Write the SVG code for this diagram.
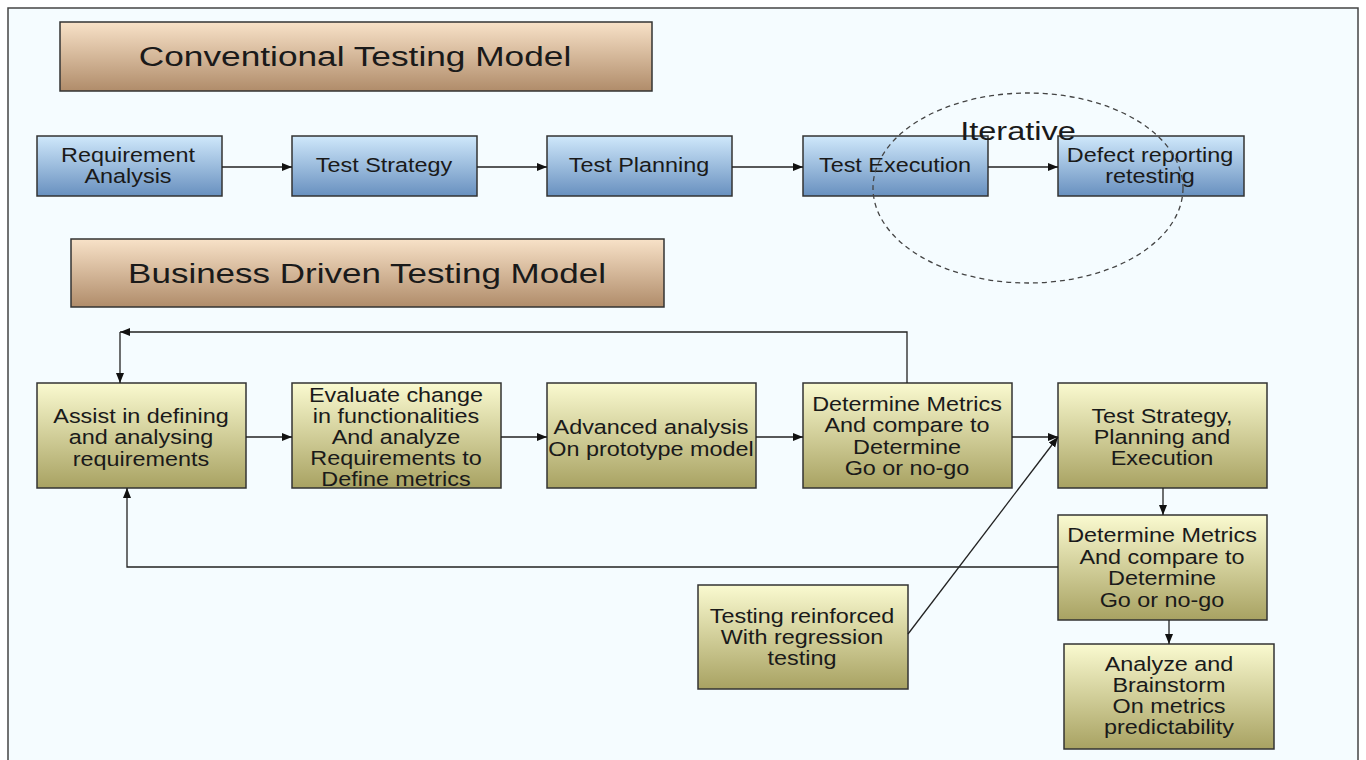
<svg xmlns="http://www.w3.org/2000/svg" width="1366" height="760" viewBox="0 0 1366 760">
<defs>
<linearGradient id="gBrown" x1="0" y1="0" x2="0" y2="1"><stop offset="0" stop-color="#f8e2c8"/><stop offset="1" stop-color="#b08c6a"/></linearGradient>
<linearGradient id="gBlue" x1="0" y1="0" x2="0" y2="1"><stop offset="0" stop-color="#cfe8fb"/><stop offset="1" stop-color="#6890bf"/></linearGradient>
<linearGradient id="gYel" x1="0" y1="0" x2="0" y2="1"><stop offset="0" stop-color="#fafad0"/><stop offset="1" stop-color="#a8a262"/></linearGradient>
<marker id="arr" viewBox="0 0 10 10" refX="10" refY="5" markerWidth="10" markerHeight="10" markerUnits="userSpaceOnUse" orient="auto"><path d="M0,1 L10,5 L0,9 Z" fill="#111"/></marker>
<style>
.title{fill:url(#gBrown);stroke:#333;stroke-width:1.5}
.blue{fill:url(#gBlue);stroke:#333;stroke-width:1.5}
.yel{fill:url(#gYel);stroke:#333;stroke-width:1.5}
text{font-family:"Liberation Sans",Arial,sans-serif;fill:#1a1a1a;text-anchor:middle}
.tt{font-size:28px}
.bt{font-size:19.5px}
.conn{fill:none;stroke:#222;stroke-width:1.3}
.arrow{marker-end:url(#arr)}
</style>
</defs>
<rect x="0" y="0" width="1366" height="760" fill="#ffffff"/>
<rect x="8" y="8" width="1350" height="760" fill="#f5fcff" stroke="#444" stroke-width="1.5"/>

<g id="title-conventional"><rect class="title" x="60" y="22" width="592" height="69"/><text class="tt" transform="translate(355,0) scale(1.26,1)" x="0" y="66">Conventional Testing Model</text></g>
<g id="title-business"><rect class="title" x="71" y="239" width="593" height="68"/><text class="tt" transform="translate(367,0) scale(1.25,1)" x="0" y="283">Business Driven Testing Model</text></g>

<g id="n-req"><rect class="blue" x="37" y="136" width="185" height="60"/><g transform="translate(128,0) scale(1.2,1)"><text class="bt" x="0" y="162">Requirement</text><text class="bt" x="0" y="183">Analysis</text></g></g>
<g id="n-strategy"><rect class="blue" x="292" y="136" width="185" height="60"/><g transform="translate(384,0) scale(1.2,1)"><text class="bt" x="0" y="172">Test Strategy</text></g></g>
<g id="n-planning"><rect class="blue" x="547" y="136" width="185" height="60"/><g transform="translate(639,0) scale(1.2,1)"><text class="bt" x="0" y="172">Test Planning</text></g></g>
<g id="n-execution"><rect class="blue" x="803" y="136" width="185" height="60"/><g transform="translate(895,0) scale(1.2,1)"><text class="bt" x="0" y="172">Test Execution</text></g></g>
<g id="n-defect"><rect class="blue" x="1058" y="136" width="186" height="60"/><g transform="translate(1150,0) scale(1.2,1)"><text class="bt" x="0" y="162">Defect reporting</text><text class="bt" x="0" y="183">retesting</text></g></g>

<g id="iterative"><ellipse cx="1028" cy="188" rx="155" ry="95" fill="none" stroke="#444" stroke-width="1.3" stroke-dasharray="5,4"/><text transform="translate(1018,0) scale(1.25,1)" x="0" y="140" style="font-size:26px">Iterative</text></g>

<g id="n-assist"><rect class="yel" x="37" y="383" width="209" height="105"/><g transform="translate(141,0) scale(1.2,1)"><text class="bt" x="0" y="423">Assist in defining</text><text class="bt" x="0" y="444">and analysing</text><text class="bt" x="0" y="466">requirements</text></g></g>
<g id="n-evaluate"><rect class="yel" x="292" y="383" width="209" height="105"/><g transform="translate(396,0) scale(1.2,1)"><text class="bt" x="0" y="402">Evaluate change</text><text class="bt" x="0" y="423">in functionalities</text><text class="bt" x="0" y="444">And analyze</text><text class="bt" x="0" y="465">Requirements to</text><text class="bt" x="0" y="486">Define metrics</text></g></g>
<g id="n-advanced"><rect class="yel" x="547" y="383" width="209" height="105"/><g transform="translate(651,0) scale(1.2,1)"><text class="bt" x="0" y="434">Advanced analysis</text><text class="bt" x="0" y="456">On prototype model</text></g></g>
<g id="n-metrics1"><rect class="yel" x="803" y="383" width="209" height="105"/><g transform="translate(907,0) scale(1.2,1)"><text class="bt" x="0" y="411">Determine Metrics</text><text class="bt" x="0" y="432">And compare to</text><text class="bt" x="0" y="454">Determine</text><text class="bt" x="0" y="475">Go or no-go</text></g></g>
<g id="n-tsp"><rect class="yel" x="1058" y="383" width="209" height="105"/><g transform="translate(1162,0) scale(1.2,1)"><text class="bt" x="0" y="423">Test Strategy,</text><text class="bt" x="0" y="444">Planning and</text><text class="bt" x="0" y="465">Execution</text></g></g>
<g id="n-metrics2"><rect class="yel" x="1058" y="515" width="209" height="105"/><g transform="translate(1162,0) scale(1.2,1)"><text class="bt" x="0" y="542">Determine Metrics</text><text class="bt" x="0" y="564">And compare to</text><text class="bt" x="0" y="585">Determine</text><text class="bt" x="0" y="607">Go or no-go</text></g></g>
<g id="n-regression"><rect class="yel" x="698" y="585" width="210" height="104"/><g transform="translate(802,0) scale(1.2,1)"><text class="bt" x="0" y="623">Testing reinforced</text><text class="bt" x="0" y="644">With regression</text><text class="bt" x="0" y="665">testing</text></g></g>
<g id="n-analyze"><rect class="yel" x="1064" y="644" width="210" height="105"/><g transform="translate(1169,0) scale(1.2,1)"><text class="bt" x="0" y="671">Analyze and</text><text class="bt" x="0" y="692">Brainstorm</text><text class="bt" x="0" y="713">On metrics</text><text class="bt" x="0" y="734">predictability</text></g></g>

<g id="connectors">
<line class="conn arrow" x1="222" y1="167" x2="292" y2="167"/>
<line class="conn arrow" x1="477" y1="167" x2="547" y2="167"/>
<line class="conn arrow" x1="732" y1="167" x2="803" y2="167"/>
<line class="conn arrow" x1="988" y1="167" x2="1058" y2="167"/>
<line class="conn arrow" x1="246" y1="437" x2="292" y2="437"/>
<line class="conn arrow" x1="501" y1="437" x2="547" y2="437"/>
<line class="conn arrow" x1="756" y1="437" x2="803" y2="437"/>
<line class="conn arrow" x1="1012" y1="437" x2="1058" y2="437"/>
<polyline class="conn arrow" points="907,383 907,332 120,332"/>
<line class="conn arrow" x1="120" y1="332" x2="120" y2="383"/>
<polyline class="conn arrow" points="1058,567 127,567 127,488"/>
<line class="conn arrow" x1="908" y1="634" x2="1058" y2="437"/>
<line class="conn arrow" x1="1163" y1="488" x2="1163" y2="515"/>
<line class="conn arrow" x1="1169" y1="620" x2="1169" y2="644"/>
</g>
</svg>
